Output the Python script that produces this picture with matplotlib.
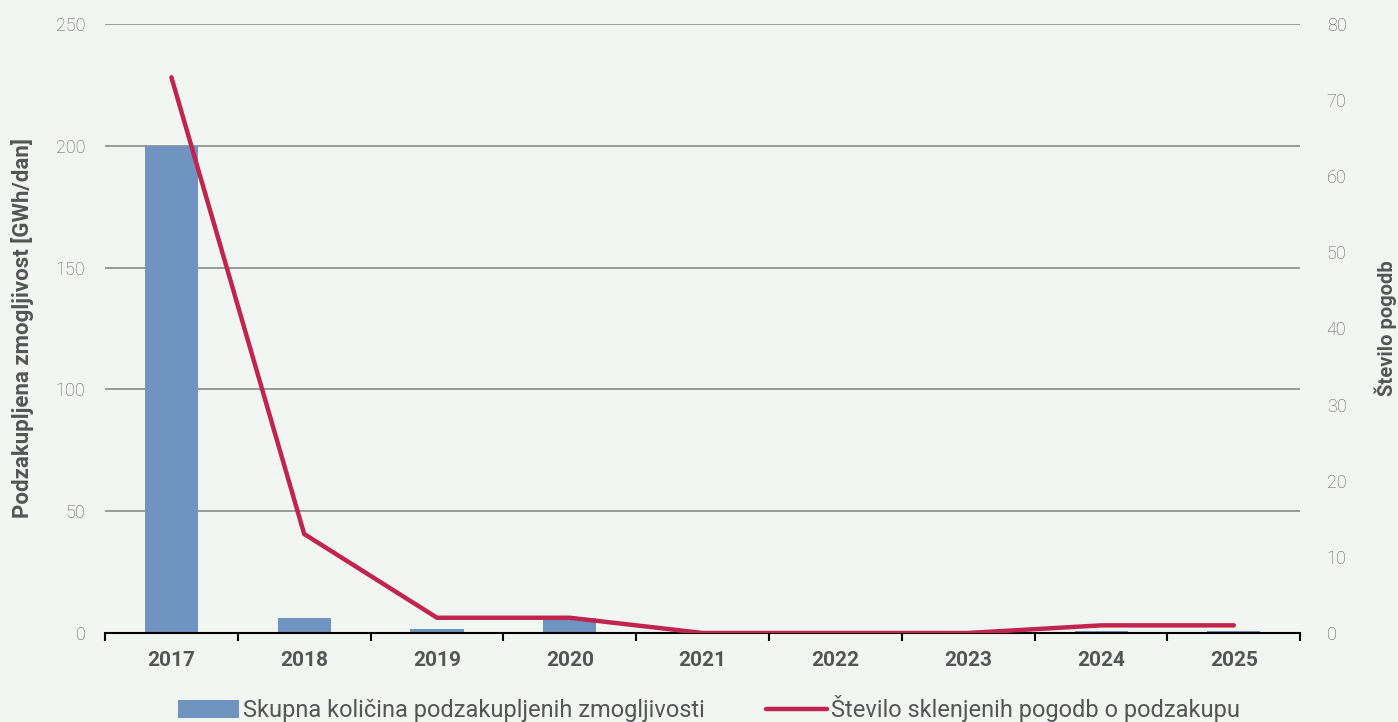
import matplotlib.pyplot as plt
import numpy as np

# podatki
leta = ['2017', '2018', '2019', '2020', '2021', '2022', '2023', '2024', '2025']
zmogljivost = [200, 6.2, 1.8, 6, 0, 0, 0, 1, 1]
pogodbe = [73, 13, 2, 2, 0, 0, 0, 1, 1]

bg = '#f2f6f3'
bar_color = '#6f94c0'
line_color = '#c1244f'

plt.rcParams['font.family'] = ['Roboto', 'DejaVu Sans']

fig = plt.figure(figsize=(13.98, 7.22), dpi=100, facecolor=bg)
ax = fig.add_axes([0.0751, 0.1233, 0.855, 0.8435], facecolor=bg)
ax2 = ax.twinx()

x = np.arange(len(leta))
ax.bar(x, zmogljivost, width=0.4, color=bar_color, zorder=2,
       label='Skupna količina podzakupljenih zmogljivosti')
ax2.plot(x, pogodbe, color=line_color, lw=3.2, solid_capstyle='round',
         solid_joinstyle='miter', zorder=3,
         label='Število sklenjenih pogodb o podzakupu')

ax.set_xlim(-0.5, len(leta) - 0.5)
ax.set_ylim(0, 250)
ax2.set_ylim(0, 80)
ax.set_yticks(range(0, 251, 50))
ax2.set_yticks(range(0, 81, 10))

ax.yaxis.grid(True, color='#8a8a8a', lw=1.2, zorder=0)
ax.set_axisbelow(True)

for a in (ax, ax2):
    for s in ['top', 'left', 'right']:
        a.spines[s].set_visible(False)
ax2.spines['bottom'].set_visible(False)
ax.spines['bottom'].set_color('black')
ax.spines['bottom'].set_linewidth(1.5)

ax.set_xticks(x)
ax.set_xticklabels(leta, fontsize=15, fontweight='bold', color='#555555')
ax.tick_params(axis='x', length=0, pad=13)
ax.set_xticks(np.arange(-0.5, len(leta)), minor=True)
ax.tick_params(axis='x', which='minor', length=6, width=1.5, color='black')

ax.tick_params(axis='y', length=0, pad=14, labelsize=13, labelcolor='#5a5a5a')
ax2.tick_params(axis='y', length=0, pad=19, labelsize=13, labelcolor='#5a5a5a')
for lab in ax.get_yticklabels() + ax2.get_yticklabels():
    lab.set_fontweight('light')

ax.set_ylabel('Podzakupljena zmogljivost [GWh/dan]', fontsize=16,
              fontweight='bold', color='#555555', labelpad=16)
ax2.set_ylabel('Število pogodb', fontsize=14.5, fontweight='bold',
               color='#555555', labelpad=20)

h1, l1 = ax.get_legend_handles_labels()
h2, l2 = ax2.get_legend_handles_labels()
fig.legend(h1 + h2, l1 + l2, loc='lower center', bbox_to_anchor=(0.507, -0.03),
           ncol=2, frameon=False, fontsize=17, labelcolor='#555555',
           columnspacing=2.6, handletextpad=0.15, handlelength=2.6,
           handleheight=0.8)

fig.savefig('out.png', dpi=100, facecolor=bg)
